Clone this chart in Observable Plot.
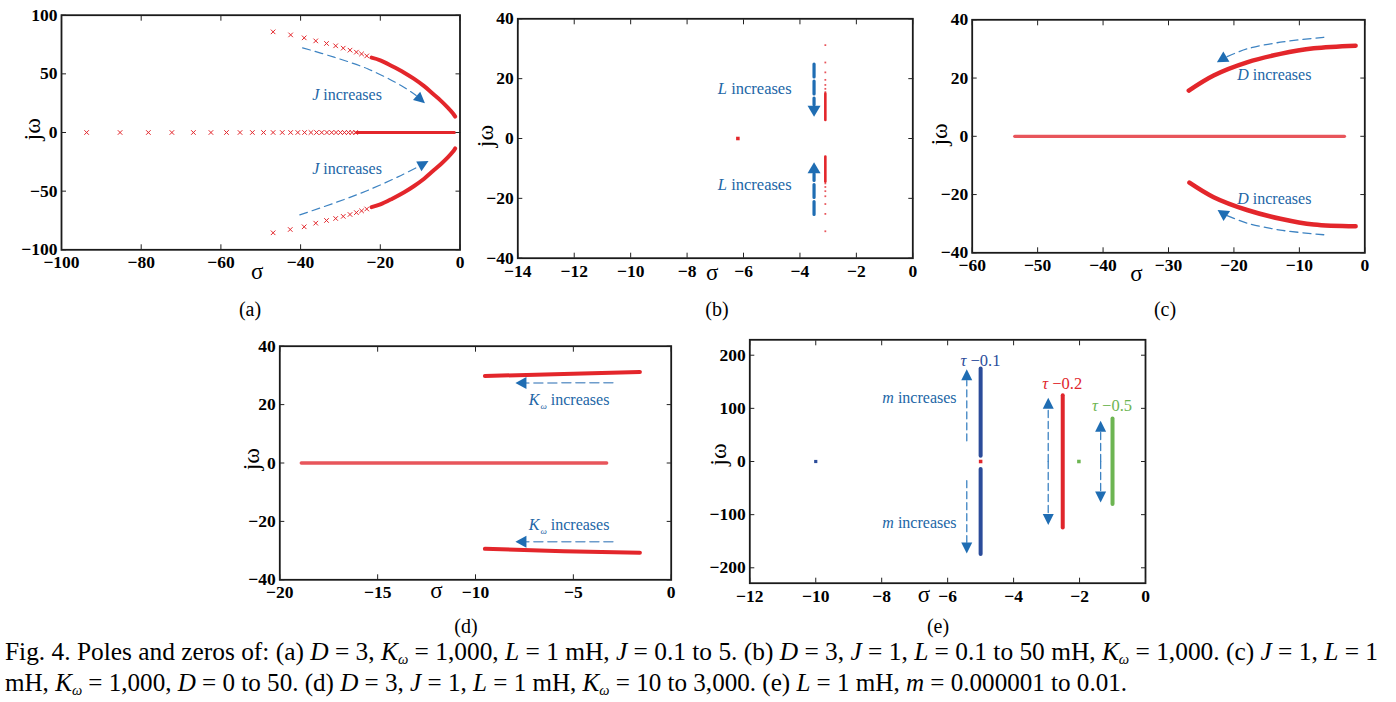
<!DOCTYPE html>
<html><head><meta charset="utf-8">
<script src="https://cdn.jsdelivr.net/npm/d3@7"></script>
<script src="https://cdn.jsdelivr.net/npm/@observablehq/plot@0.6"></script>
<style>
body{margin:0;background:#fff;}
#fig{position:relative;width:1396px;height:702px;overflow:hidden;font-family:"Liberation Serif","Times New Roman",serif;color:#000;}
.sub{position:absolute;font-size:20px;line-height:20px;transform:translateX(-50%);white-space:nowrap;}
.cap{position:absolute;left:5px;font-size:26px;line-height:28px;white-space:nowrap;display:inline-block;transform-origin:0 50%;}
svg{position:absolute;overflow:visible;}
</style></head><body><div id="fig"></div>
<script>
// ================= DATA =================
// (a) D = 3, Kw = 1000, L = 1 mH, J = 0.1 to 5
const aXTicks = [-100, -80, -60, -40, -20, 0];
const aYTicks = [-100, -50, 0, 50, 100];
const aRealSigma = [-93.7, -85.3, -78.2, -72.3, -66.9, -62.5, -58.6, -55.2, -52.1, -49.3, -46.9, -44.6, -42.5, -40.7, -39.0, -37.4, -36.0, -34.7, -33.4, -32.2, -31.1, -30.0, -29.0, -28.0, -27.1, -26.2];
const aRealSolid = [-26.0, -1.4];
const aUpSigma = [-46.9, -42.5, -39.1, -36.2, -33.5, -31.2, -29.3, -27.6, -26.0, -24.7, -23.4];
const aUpOmega = [85.8, 83.2, 80.7, 78.1, 75.9, 73.9, 71.9, 70.2, 68.5, 67.0, 65.3];
const aUpSolidSigma = [-22.2, -20.0, -17.0, -14.0, -11.6, -9.0, -6.8, -4.9, -3.0, -1.8, -1.2];
const aUpSolidOmega = [63.8, 61.5, 56.5, 51.0, 45.9, 39.5, 33.0, 27.4, 21.0, 16.5, 13.5];
const aLoSigma = [-46.9, -42.6, -39.1, -36.2, -33.5, -31.2, -29.3, -27.6, -26.0, -24.7, -23.4];
const aLoOmega = [-85.5, -82.7, -80.4, -77.3, -75.0, -73.3, -71.5, -69.9, -68.3, -66.8, -65.2];
const aLoSolidSigma = [-22.2, -20.0, -17.0, -14.0, -11.6, -9.0, -6.8, -4.9, -3.0, -1.8, -1.2];
const aLoSolidOmega = [-63.6, -61.3, -56.4, -50.9, -45.8, -39.4, -32.9, -27.3, -21.0, -16.5, -13.5];
const aArrowUp = [[-39.5, 72.2], [-31.6, 64.2], [-23.2, 54.3], [-14.8, 40.1], [-11.0, 31.5], [-8.8, 25.0]];
const aArrowLo = [[-40.2, -70.2], [-31.6, -60.2], [-23.2, -49.4], [-14.8, -36.6], [-10.3, -28.8], [-7.9, -24.4]];
const aLabels = [{x: -37.1, y: 32.5, v: "J", s: "", t: " increases"}, {x: -37.1, y: -31.4, v: "J", s: "", t: " increases"}];

// (b) D = 3, J = 1, L = 0.1 to 50 mH, Kw = 1000
const bXTicks = [-14, -12, -10, -8, -6, -4, -2, 0];
const bYTicks = [-40, -20, 0, 20, 40];
const bPoleSigma = [-6.2];
const bBranchSigma = -3.10;
const bUpDots = [31.2, 25.4, 22.1, 19.6, 17.9, 16.6, 15.5];
const bUpSolid = [15.0, 6.2];
const bLoDots = [-31.0, -25.2, -21.9, -19.3, -17.6, -16.2, -15.0];
const bLoSolid = [-14.4, -6.0];
const bArrowUp = [[-3.50, 24.9], [-3.50, 11.3], [-3.50, 7.3]];
const bArrowLo = [[-3.50, -25.4], [-3.50, -11.8], [-3.50, -7.9]];
const bLabels = [{x: -6.91, y: 16.8, v: "L", s: "", t: " increases"}, {x: -6.91, y: -15.4, v: "L", s: "", t: " increases"}];

// (c) J = 1, L = 1 mH, Kw = 1000, D = 0 to 50
const cXTicks = [-60, -50, -40, -30, -20, -10, 0];
const cYTicks = [-40, -20, 0, 20, 40];
const cRealSolid = [-53.5, -3.1];
const cUpSigma = [-26.9, -23.1, -18.0, -12.9, -7.8, -1.4];
const cUpOmega = [15.7, 20.9, 25.4, 28.3, 30.2, 31.1];
const cLoSigma = [-26.8, -23.1, -18.0, -12.9, -7.8, -1.4];
const cLoOmega = [-15.9, -20.9, -25.3, -28.3, -30.3, -30.9];
const cArrowUp = [[-6.27, 34.0], [-12.9, 32.3], [-18.0, 30.0], [-21.4, 27.0], [-22.6, 25.4]];
const cArrowLo = [[-6.27, -33.8], [-12.9, -32.2], [-18.0, -29.8], [-21.4, -26.9], [-22.5, -25.3]];
const cLabels = [{x: -19.5, y: 21.2, v: "D", s: "", t: " increases"}, {x: -19.5, y: -21.5, v: "D", s: "", t: " increases"}];

// (d) D = 3, J = 1, L = 1 mH, Kw = 10 to 3000
const dXTicks = [-20, -15, -10, -5, 0];
const dYTicks = [-40, -20, 0, 20, 40];
const dRealSolid = [-18.9, -3.3];
const dUpSigma = [-9.52, -5.5, -1.6];
const dUpOmega = [29.8, 30.5, 31.2];
const dLoSigma = [-9.52, -5.5, -1.6];
const dLoOmega = [-29.4, -30.2, -30.7];
const dArrowUp = [[-2.98, 27.5], [-7.45, 27.4], [-7.96, 27.4]];
const dArrowLo = [[-2.98, -27.0], [-7.45, -27.0], [-7.96, -27.0]];
const dLabels = [{x: -7.28, y: 21.5, v: "K", s: "ω", t: " increases"}, {x: -7.28, y: -21.1, v: "K", s: "ω", t: " increases"}];

// (e) L = 1 mH, m = 0.000001 to 0.01, tau = 0.1 / 0.2 / 0.5
const eXTicks = [-12, -10, -8, -6, -4, -2, 0];
const eYTicks = [-200, -100, 0, 100, 200];
const eBlueZeroSigma = [-10.0];
const eBlueSigma = -5.0;
const eBlueTop = [10.7, 174.8];
const eBlueBottom = [-14.0, -174.0];
const eRedZeroSigma = [-5.0];
const eRedSigma = -2.51;
const eRedSpan = [-124.0, 124.8];
const eGreenZeroSigma = [-2.02];
const eGreenSigma = -1.0;
const eGreenSpan = [-80.0, 80.8];
const eArrows = [
  [[-5.42, 38.9], [-5.42, 152], [-5.42, 173.6]],
  [[-5.42, -36.0], [-5.42, -152], [-5.42, -173.0]],
  [[-2.95, 0], [-2.95, 99], [-2.95, 120.0]],
  [[-2.95, 0], [-2.95, -99], [-2.95, -119.6]],
  [[-1.36, 0], [-1.36, 56], [-1.36, 76.5]],
  [[-1.36, 0], [-1.36, -56], [-1.36, -77.0]]
];
const eLabels = [{x: -7.98, y: 120.3, v: "m", s: "", t: " increases"}, {x: -7.98, y: -115.8, v: "m", s: "", t: " increases"}];
const eTauLabels = [{x: -5.61, y: 189.3, v: "τ", s: "", t: " −0.1", c: "#2b4c9a"}, {x: -3.13, y: 146.6, v: "τ", s: "", t: " −0.2", c: "#e0262c"}, {x: -1.62, y: 104.7, v: "τ", s: "", t: " −0.5", c: "#6db552"}];

// ================= STYLE =================
const FONT = '"Liberation Serif","Times New Roman",serif';
const RED = "#e3262b", RED_SOFT = "#e8555b", HEAD = "#1f6db3", DASH = "#3d83c2", TXT = "#2266a6";
const fmt = d3.format("d");

function headSymbol(len, half) {
  return {draw(ctx) { ctx.moveTo(0, 0); ctx.lineTo(-len, -half); ctx.lineTo(-len, half); ctx.closePath(); }};
}

function panel(cfg) {
  const [mt, mr, mb, ml] = cfg.margin;
  const kx = (cfg.width - ml - mr) / (cfg.x[1] - cfg.x[0]);
  const ky = (cfg.height - mt - mb) / (cfg.y[1] - cfg.y[0]);
  const arrowMarks = [];
  for (const a of cfg.arrows) {
    const p = a.pts, n = p.length;
    const ang = Math.atan2(-(p[n - 1][1] - p[n - 2][1]) * ky, (p[n - 1][0] - p[n - 2][0]) * kx) * 180 / Math.PI;
    arrowMarks.push(Plot.line(p.slice(0, n - 1), {x: d => d[0], y: d => d[1], curve: "catmull-rom", stroke: a.color || DASH, strokeWidth: a.w, strokeDasharray: a.dash}));
    arrowMarks.push(Plot.dot([p[n - 1]], {x: d => d[0], y: d => d[1], symbol: headSymbol(a.len, a.half), r: 3, rotate: ang, fill: HEAD, stroke: "none"}));
  }
  const labelMarks = cfg.labels.map(L => Plot.text(L.data, {x: "x", y: "y", text: d => d.v + d.s + d.t, textAnchor: "start", fontSize: L.size, fontFamily: FONT, fill: d => d.c || TXT}));
  const axText = {fontSize: 17.5, fontWeight: "bold", fontFamily: FONT, fill: "#000", stroke: "#222", label: null};
  const svg = Plot.plot({
    width: cfg.width, height: cfg.height,
    marginTop: mt, marginRight: mr, marginBottom: mb, marginLeft: ml,
    x: {domain: cfg.x, axis: null, label: null},
    y: {domain: cfg.y, axis: null, label: null},
    style: {fontFamily: FONT, fontSize: "17px", background: "transparent", color: "#000", overflow: "visible"},
    marks: [
      ...cfg.marks,
      ...arrowMarks,
      ...labelMarks,
      Plot.text([cfg.sigmaAt], {x: d => d, text: () => "σ", frameAnchor: "bottom", dy: cfg.sigmaDy, fontSize: 23, fontFamily: FONT, fill: "#000"}),
      Plot.text([cfg.omegaAt], {y: d => d, text: () => "jω", frameAnchor: "left", dx: cfg.omegaDx, rotate: -90, fontSize: 24, fontFamily: FONT, fill: "#000"}),
      Plot.frame({stroke: "#1a1a1a", strokeWidth: 1.8}),
      Plot.axisX(cfg.xt, {anchor: "bottom", tickSize: -5, tickPadding: 11, tickFormat: fmt, ...axText}),
      Plot.axisX(cfg.xt, {anchor: "top", tickSize: -5, text: null, stroke: "#222", label: null}),
      Plot.axisY(cfg.yt, {anchor: "left", tickSize: -5, tickPadding: 9, tickFormat: fmt, ...axText}),
      Plot.axisY(cfg.yt, {anchor: "right", tickSize: -5, text: null, stroke: "#222", label: null})
    ]
  });
  svg.style.left = cfg.left + "px";
  svg.style.top = cfg.top + "px";
  // italic variable names and subscripts in annotation labels
  const ns = "http://www.w3.org/2000/svg";
  const texts = [...svg.querySelectorAll("text")];
  const used = new Set();
  for (const L of cfg.labels) for (const d of L.data) {
    const full = d.v + d.s + d.t;
    const el = texts.find(e => !used.has(e) && e.textContent === full);
    if (!el) continue;
    used.add(el);
    el.textContent = "";
    const t1 = document.createElementNS(ns, "tspan");
    t1.setAttribute("font-style", "italic"); t1.textContent = d.v; el.appendChild(t1);
    if (d.s) {
      const t2 = document.createElementNS(ns, "tspan");
      t2.setAttribute("font-style", "italic"); t2.setAttribute("font-size", "9"); t2.setAttribute("dy", "4"); t2.setAttribute("dx", "1");
      t2.textContent = d.s; el.appendChild(t2);
    }
    const t3 = document.createElementNS(ns, "tspan");
    if (d.s) t3.setAttribute("dy", "-4");
    t3.textContent = d.t; el.appendChild(t3);
  }
  document.getElementById("fig").appendChild(svg);
}

const xy = (S, O) => S.map((s, i) => [s, O[i]]);

// ---------- (a) ----------
panel({
  left: 0, top: 0, width: 470, height: 300, margin: [14.7, 10.5, 50.7, 61],
  x: [-100, 0], y: [-100, 100], xt: aXTicks, yt: aYTicks,
  sigmaAt: -50.9, sigmaDy: 29, omegaAt: -6.8, omegaDx: -29,
  marks: [
    Plot.line(aRealSolid, {x: d => d, y: () => 0, stroke: RED, strokeWidth: 3}),
    Plot.dot(aRealSigma, {x: d => d, y: () => 0, symbol: "times", r: 2.2, stroke: RED, strokeWidth: 1}),
    Plot.dot(xy(aUpSigma, aUpOmega), {x: d => d[0], y: d => d[1], symbol: "times", r: 2.2, stroke: RED, strokeWidth: 1}),
    Plot.dot(xy(aLoSigma, aLoOmega), {x: d => d[0], y: d => d[1], symbol: "times", r: 2.2, stroke: RED, strokeWidth: 1}),
    Plot.line(xy(aUpSolidSigma, aUpSolidOmega), {x: d => d[0], y: d => d[1], curve: "catmull-rom", stroke: RED, strokeWidth: 4}),
    Plot.line(xy(aLoSolidSigma, aLoSolidOmega), {x: d => d[0], y: d => d[1], curve: "catmull-rom", stroke: RED, strokeWidth: 4})
  ],
  arrows: [
    {pts: aArrowUp, w: 1.2, dash: "8,5", len: 11, half: 5.5},
    {pts: aArrowLo, w: 1.2, dash: "8,5", len: 11, half: 5.5}
  ],
  labels: [{data: aLabels, size: 16}]
});

// ---------- (b) ----------
panel({
  left: 470, top: 0, width: 460, height: 300, margin: [18.3, 17.7, 42.3, 47.3],
  x: [-14, 0], y: [-40, 40], xt: bXTicks, yt: bYTicks,
  sigmaAt: -7.11, sigmaDy: 22, omegaAt: -2.9, omegaDx: -32,
  marks: [
    Plot.dot(bPoleSigma, {x: d => d, y: () => 0, symbol: "square", r: 2, fill: RED}),
    Plot.dot(bUpDots, {x: () => bBranchSigma, y: d => d, symbol: "square", r: 1, fill: RED_SOFT}),
    Plot.dot(bLoDots, {x: () => bBranchSigma, y: d => d, symbol: "square", r: 1, fill: RED_SOFT}),
    Plot.line(bUpSolid, {x: () => bBranchSigma, y: d => d, stroke: RED, strokeWidth: 2.6}),
    Plot.line(bLoSolid, {x: () => bBranchSigma, y: d => d, stroke: RED, strokeWidth: 2.6})
  ],
  arrows: [
    {pts: bArrowUp, w: 3.2, dash: "13,4", len: 11, half: 6.5, color: HEAD},
    {pts: bArrowLo, w: 3.2, dash: "13,4", len: 11, half: 6.5, color: HEAD}
  ],
  labels: [{data: bLabels, size: 16.5}]
});

// ---------- (c) ----------
panel({
  left: 930, top: 0, width: 466, height: 300, margin: [19.3, 31.7, 47.7, 41.7],
  x: [-60, 0], y: [-40, 40], xt: cXTicks, yt: cYTicks,
  sigmaAt: -34.9, sigmaDy: 28, omegaAt: -3.2, omegaDx: -33,
  marks: [
    Plot.line(cRealSolid, {x: d => d, y: () => 0, stroke: RED_SOFT, strokeWidth: 3.2}),
    Plot.line(xy(cUpSigma, cUpOmega), {x: d => d[0], y: d => d[1], curve: "catmull-rom", stroke: RED, strokeWidth: 4.5}),
    Plot.line(xy(cLoSigma, cLoOmega), {x: d => d[0], y: d => d[1], curve: "catmull-rom", stroke: RED, strokeWidth: 4.5})
  ],
  arrows: [
    {pts: cArrowUp, w: 1.3, dash: "8,5", len: 11, half: 6},
    {pts: cArrowLo, w: 1.3, dash: "8,5", len: 11, half: 6}
  ],
  labels: [{data: cLabels, size: 16}]
});

// ---------- (d) ----------
panel({
  left: 220, top: 330, width: 470, height: 300, margin: [15.7, 19.3, 50.7, 59.3],
  x: [-20, 0], y: [-40, 40], xt: dXTicks, yt: dYTicks,
  sigmaAt: -12.0, sigmaDy: 18, omegaAt: -2.5, omegaDx: -28,
  marks: [
    Plot.line(dRealSolid, {x: d => d, y: () => 0, stroke: RED_SOFT, strokeWidth: 3.5}),
    Plot.line(xy(dUpSigma, dUpOmega), {x: d => d[0], y: d => d[1], stroke: RED, strokeWidth: 4}),
    Plot.line(xy(dLoSigma, dLoOmega), {x: d => d[0], y: d => d[1], stroke: RED, strokeWidth: 4})
  ],
  arrows: [
    {pts: dArrowUp, w: 1.5, dash: "9,5", len: 11, half: 6, color: "#6d9ccb"},
    {pts: dArrowLo, w: 1.5, dash: "9,5", len: 11, half: 6, color: "#6d9ccb"}
  ],
  labels: [{data: dLabels, size: 16}]
});

// ---------- (e) ----------
panel({
  left: 690, top: 330, width: 480, height: 300, margin: [9.3, 25, 47.3, 59.3],
  x: [-12, 0], y: [-229, 229], xt: eXTicks, yt: eYTicks,
  sigmaAt: -6.72, sigmaDy: 19, omegaAt: -8, omegaDx: -31,
  marks: [
    Plot.dot(eBlueZeroSigma, {x: d => d, y: () => 0, symbol: "square", r: 1.8, fill: "#2b4c9a"}),
    Plot.line(eBlueTop, {x: () => eBlueSigma, y: d => d, stroke: "#2b4c9a", strokeWidth: 4}),
    Plot.line(eBlueBottom, {x: () => eBlueSigma, y: d => d, stroke: "#2b4c9a", strokeWidth: 4}),
    Plot.dot(eRedZeroSigma, {x: d => d, y: () => 0, symbol: "square", r: 2, fill: "#e0262c"}),
    Plot.line(eRedSpan, {x: () => eRedSigma, y: d => d, stroke: "#e0262c", strokeWidth: 4}),
    Plot.dot(eGreenZeroSigma, {x: d => d, y: () => 0, symbol: "square", r: 2, fill: "#6db552"}),
    Plot.line(eGreenSpan, {x: () => eGreenSigma, y: d => d, stroke: "#6db552", strokeWidth: 4})
  ],
  arrows: eArrows.map(pts => ({pts, w: 1.3, dash: "7,4", len: 11, half: 5.5})),
  labels: [{data: eLabels, size: 16}, {data: eTauLabels, size: 16.5}]
});

// ---------- sub-labels and caption ----------
const subLabels = [["(a)", 250, 299], ["(b)", 717, 299], ["(c)", 1165, 299], ["(d)", 466, 616], ["(e)", 938, 616]];
const fig = document.getElementById("fig");
for (const [t, x, y] of subLabels) {
  const d = document.createElement("div");
  d.className = "sub"; d.textContent = t; d.style.left = x + "px"; d.style.top = y + "px";
  fig.appendChild(d);
}
const K = '<i>K</i><sub style="font-size:15px;vertical-align:-4px"><i>ω</i></sub>';
const capLines = [
  {top: 638, width: 1373, html: `Fig. 4. Poles and zeros of: (a) <i>D</i> = 3, ${K} = 1,000, <i>L</i> = 1 mH, <i>J</i> = 0.1 to 5. (b) <i>D</i> = 3, <i>J</i> = 1, <i>L</i> = 0.1 to 50 mH, ${K} = 1,000. (c) <i>J</i> = 1, <i>L</i> = 1`},
  {top: 669, width: 1122, html: `mH, ${K} = 1,000, <i>D</i> = 0 to 50. (d) <i>D</i> = 3, <i>J</i> = 1, <i>L</i> = 1 mH, ${K} = 10 to 3,000. (e) <i>L</i> = 1 mH, <i>m</i> = 0.000001 to 0.01.`}
];
for (const c of capLines) {
  const s = document.createElement("span");
  s.className = "cap"; s.style.top = c.top + "px"; s.innerHTML = c.html;
  fig.appendChild(s);
  const w = s.getBoundingClientRect().width;
  s.style.transform = `scaleX(${c.width / w})`;
}
</script></body></html>
